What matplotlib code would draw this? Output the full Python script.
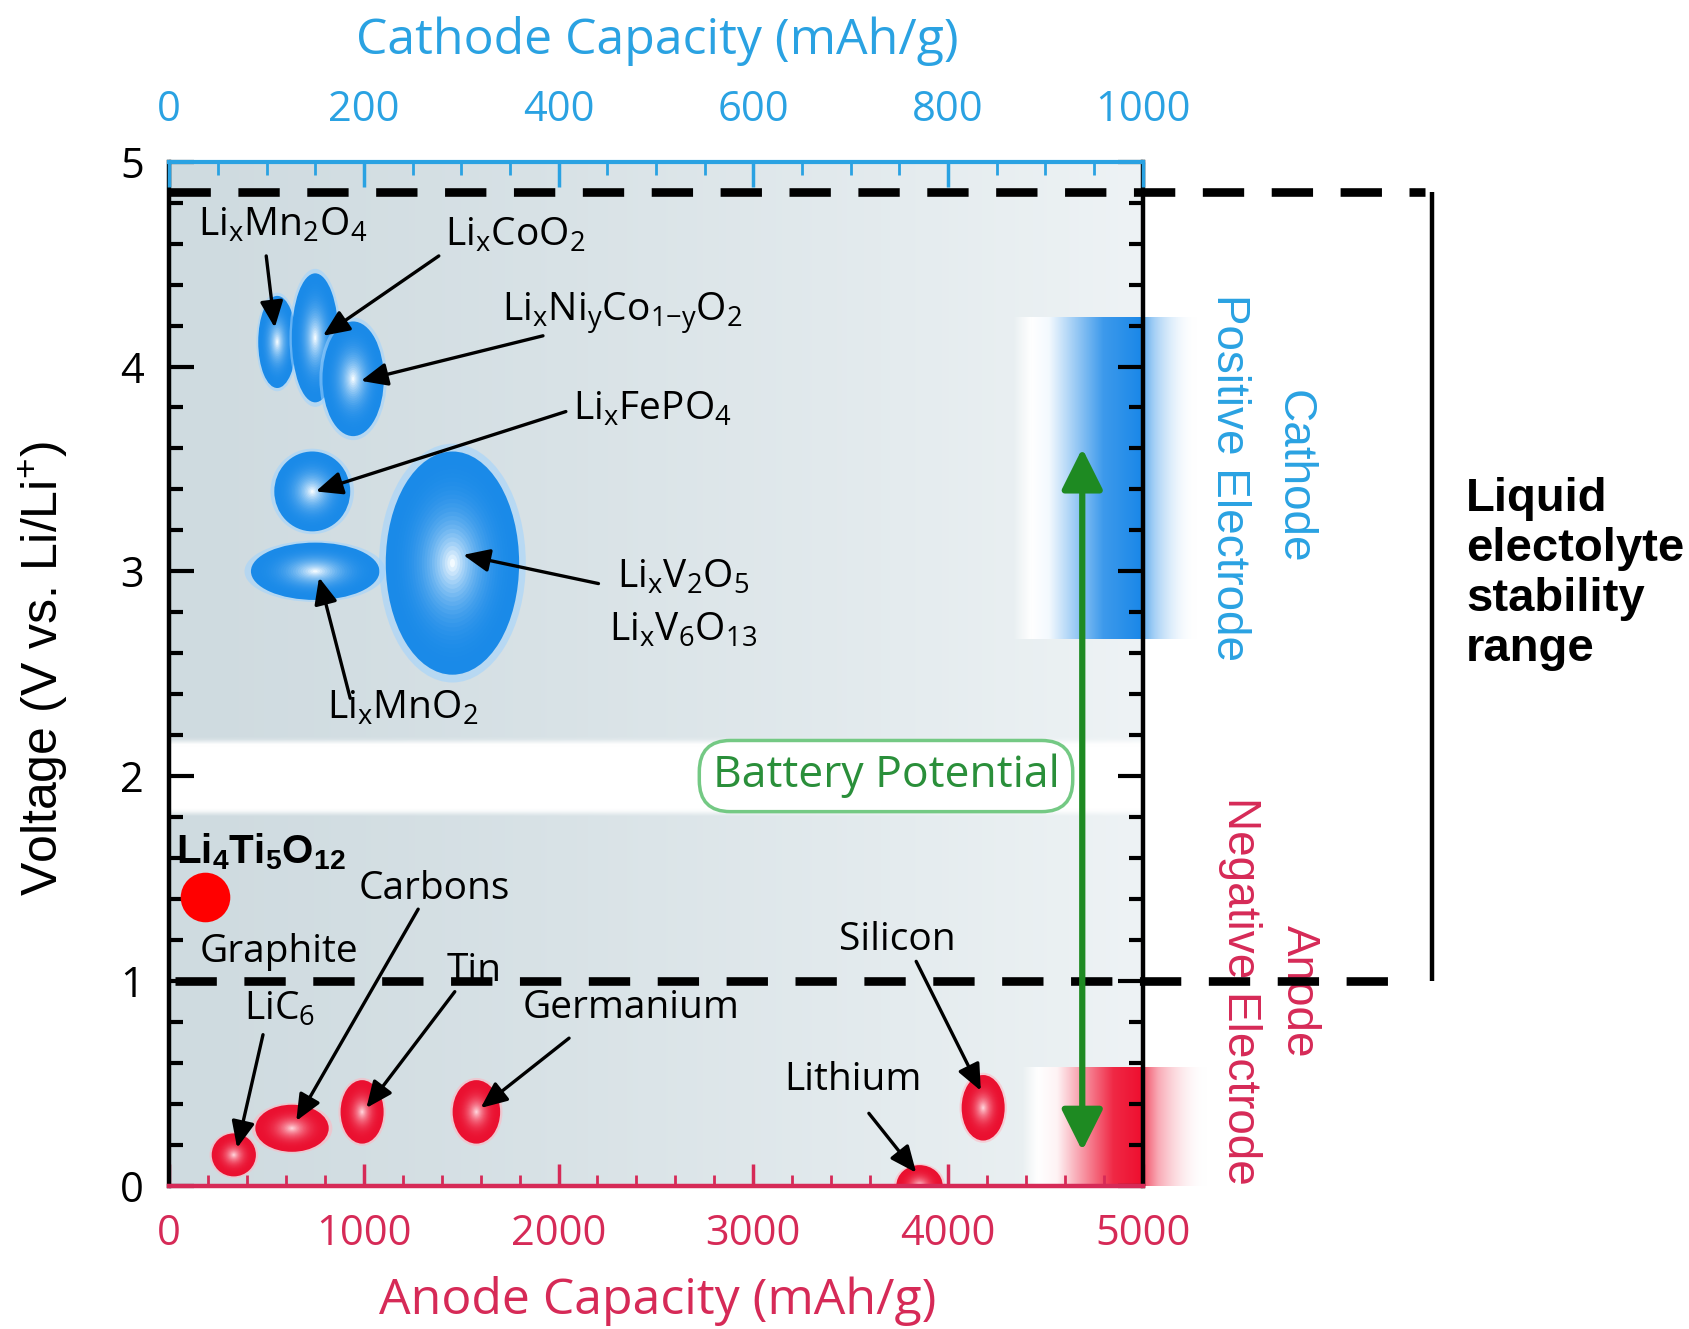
import numpy as np
import matplotlib
matplotlib.use('Agg')
import matplotlib.pyplot as plt
from matplotlib.patches import Ellipse
from matplotlib.colors import to_rgb
from matplotlib.ticker import MultipleLocator

# ---------------- data ----------------
cathode_labels = [r'$\mathregular{Li_xMn_2O_4}$', r'$\mathregular{Li_xCoO_2}$',
                  r'$\mathregular{Li_xNi_yCo_{1{-}y}O_2}$', r'$\mathregular{Li_xFePO_4}$',
                  r'$\mathregular{Li_xMnO_2}$', r'$\mathregular{Li_xV_2O_5}$']
cathode_capacity = [111, 150, 189, 147, 150, 291]          # mAh/g (cathode scale)
cathode_voltage = [4.12, 4.14, 3.94, 3.39, 3.00, 3.04]     # V
cathode_cap_spread = [39, 48, 63, 78, 132, 137]
cathode_volt_spread = [0.45, 0.63, 0.56, 0.39, 0.28, 1.09]

anode_labels = ['LiC6', 'Carbons', 'Tin', 'Germanium', 'Lithium', 'Silicon']
anode_capacity = [332, 631, 991, 1578, 3854, 4181]          # mAh/g (anode scale)
anode_voltage = [0.15, 0.28, 0.36, 0.36, 0.00, 0.38]
anode_cap_spread = [227, 377, 221, 244, 238, 221]
anode_volt_spread = [0.21, 0.23, 0.31, 0.31, 0.20, 0.32]

lto_capacity = 183
lto_voltage = 1.41

electrolyte_window = [1.0, 4.85]
cathode_band = [2.67, 4.24]
anode_band = [0.0, 0.58]
battery_potential = [0.17, 3.60]
white_band = [1.82, 2.17]

anode_ticks = [0, 1000, 2000, 3000, 4000, 5000]
cathode_ticks = [0, 200, 400, 600, 800, 1000]
voltage_ticks = [0, 1, 2, 3, 4, 5]

# ---------------- style ----------------
CATH_C = '#2aa2e2'
ANODE_C = '#d62a57'
BLUE = '#1b88e8'
RED = '#ee1030'
GREEN = '#1e8a22'
LFONT = 'Open Sans'
AFONT = 'Liberation Sans'

plt.rcParams['font.family'] = [LFONT, 'DejaVu Sans']

fig = plt.figure(figsize=(16.9, 13.29), dpi=100)
ax = fig.add_axes([0.1001, 0.1079, 0.5760, 0.7704])
ax.set_xlim(0, 5000)
ax.set_ylim(0, 5)
ax2 = ax.twiny()
ax2.set_xlim(0, 1000)
ax2.set_ylim(0, 5)

# background gradient with white band
H, W = 400, 400
vv = np.linspace(0, 5, H)[:, None]
xx = np.linspace(0, 1, W)[None, :]
c0 = np.array(to_rgb('#cfdbe0'))
c1 = np.array(to_rgb('#eef3f5'))
t = np.clip(xx ** 1.3, 0, 1)
bg = c0[None, None, :] * (1 - t[..., None]) + c1[None, None, :] * t[..., None]
bg = np.broadcast_to(bg, (H, W, 3)).copy()
band = np.clip(np.minimum(vv - white_band[0], white_band[1] - vv) / 0.03 + 0.5, 0, 1)
bg = bg * (1 - band[..., None]) + band[..., None] * 1.0
ax.imshow(bg, extent=[0, 5000, 0, 5], origin='lower', aspect='auto',
          interpolation='bilinear', zorder=0)


def glow_box(axis, x0, x1, y0, y1, keys, mix, alpha, color, z=1):
    xs = np.linspace(x0, x1, 400)
    m = np.interp(xs, keys, mix)
    a = np.interp(xs, keys, alpha)
    col = np.array(to_rgb(color))
    rgb = (1 - m)[:, None] * 1.0 + m[:, None] * col[None, :]
    img = np.zeros((2, len(xs), 4))
    img[:, :, :3] = rgb[None]
    img[:, :, 3] = a[None]
    axis.imshow(img, extent=[x0, x1, y0, y1], origin='lower', aspect='auto',
                interpolation='bilinear', zorder=z, clip_on=False)


glow_box(ax, 4336, 5280, cathode_band[0], cathode_band[1],
         [4336, 4430, 4520, 4800, 4990, 5000, 5060, 5280],
         [0, 0, 0.05, 0.85, 1.0, 0.7, 0.45, 0.0],
         [0, 1, 1, 1, 1, 1, 0.9, 0.0], BLUE)
glow_box(ax, 4380, 5330, anode_band[0], anode_band[1],
         [4380, 4460, 4560, 4850, 4990, 5000, 5080, 5330],
         [0, 0, 0.05, 0.9, 1.0, 0.75, 0.4, 0.0],
         [0, 1, 1, 1, 1, 1, 0.9, 0.0], RED)
ax.set_xlim(0, 5000)
ax.set_ylim(0, 5)


def grad_ellipse(axis, x, y, w, h, edge, center, halo, n=26, z=3):
    axis.add_patch(Ellipse((x, y), w * 1.1, h * 1.07, color=halo, alpha=0.55, lw=0, zorder=z))
    e = np.array(to_rgb(edge))
    c = np.array(to_rgb(center))
    for i in range(n):
        f = 1 - i / n
        tt = (i / (n - 1)) ** 2.6
        col = e * (1 - tt) + c * tt
        axis.add_patch(Ellipse((x, y), w * f, h * f, color=col, lw=0, zorder=z))


for c, v, w, h in zip(cathode_capacity, cathode_voltage, cathode_cap_spread, cathode_volt_spread):
    grad_ellipse(ax2, c, v, w, h, '#1a8ae8', '#f2faff', '#9fd3ff')
for a, v, w, h in zip(anode_capacity, anode_voltage, anode_cap_spread, anode_volt_spread):
    grad_ellipse(ax, a, v, w, h, '#ea1030', '#ffd0d8', '#ffb6c1')

ax.scatter([lto_capacity], [lto_voltage], s=1275, color='#ff0000', zorder=6, lw=0)

# electrolyte window dashed lines
ax.plot([0, 6451], [electrolyte_window[1]] * 2, color='black', lw=6.2,
        dashes=(4.8, 3.2), clip_on=False, zorder=8)
ax.plot([30, 6312], [electrolyte_window[0]] * 2, color='black', lw=6.2,
        dashes=(4.8, 3.2), clip_on=False, zorder=8)
ax.plot([6484, 6484], [electrolyte_window[1], electrolyte_window[0]], color='black',
        lw=3.2, clip_on=False, zorder=8, solid_capstyle='butt')

# green battery potential arrow
ax.annotate('', xy=(4690, battery_potential[1]), xytext=(4690, battery_potential[0]),
            arrowprops=dict(arrowstyle='<|-|>,head_length=0.9,head_width=0.45',
                            color=GREEN, lw=4.5, shrinkA=0, shrinkB=0, mutation_scale=28),
            zorder=9)
ax.text(3682, 2.0, 'Battery Potential', fontsize=32, color='#2a8f3a', ha='center', va='center',
        zorder=7, bbox=dict(boxstyle='round,pad=0.3,rounding_size=0.7', fc='white',
                            ec='#74c984', lw=2.5))

# labels for cathode materials (cathode coordinates)
ARW = dict(arrowstyle='-|>,head_length=0.8,head_width=0.35', color='black', lw=2.4,
           shrinkA=0, shrinkB=0, mutation_scale=20)
cath_text_pos = [(117, 4.69), (355, 4.64), (466, 4.26), (496, 3.79), (240, 2.33)]
cath_text_idx = [0, 1, 2, 3, 4]
for (tx, ty), i in zip(cath_text_pos, cath_text_idx):
    ax2.text(tx, ty, cathode_labels[i], fontsize=28, ha='center', va='center', zorder=10)
ax2.text(528, 2.97, cathode_labels[5], fontsize=28, ha='center', va='center', zorder=10)
ax2.text(528, 2.71, r'$\mathregular{Li_xV_6O_{13}}$', fontsize=28, ha='center', va='center', zorder=10)
cath_arrows = [((99.7, 4.54), (108.5, 4.19)), ((277, 4.54), (158, 4.15)),
               ((384, 4.15), (197, 3.93)), ((407.5, 3.78), (150.6, 3.39)),
               ((441, 2.94), (302, 3.08)), ((186, 2.38), (154, 2.97))]
for s, e in cath_arrows:
    ax2.annotate('', xy=e, xytext=s, arrowprops=ARW, zorder=10)

# labels for anode materials
ax.text(565, 1.142, 'Graphite', fontsize=28, ha='center', va='center', zorder=10)
ax.text(565, 0.858, r'$\mathregular{LiC_6}$', fontsize=28, ha='center', va='center', zorder=10)
anode_text_pos = [(1362, 1.447), (1567, 1.05), (2370, 0.868), (3511, 0.516), (3738, 1.20)]
for (tx, ty), name in zip(anode_text_pos, anode_labels[1:]):
    ax.text(tx, ty, name, fontsize=28, ha='center', va='center', zorder=7)
anode_arrows = [((482, 0.737), (349, 0.184)), ((1279, 1.35), (653, 0.316)),
                ((1467, 0.947), (1013, 0.379)), ((2054, 0.72), (1600, 0.379)),
                ((3594, 0.353), (3837, 0.063)), ((3837, 1.095), (4169, 0.463))]
for s, e in anode_arrows:
    ax.annotate('', xy=e, xytext=s, arrowprops=ARW, zorder=10)

ax.text(471, 1.63, r'$\mathregular{Li_4Ti_5O_{12}}$', fontsize=29, fontweight='bold',
        family=AFONT, ha='center', va='center', zorder=10)

# side texts
ax.text(5775, 3.46, 'Cathode', rotation=-90, fontsize=33, color=CATH_C, family=AFONT,
        ha='center', va='center', zorder=10)
ax.text(5443, 3.46, 'Positive Electrode', rotation=-90, fontsize=33, color=CATH_C, family=AFONT,
        ha='center', va='center', zorder=10)
ax.text(5803, 0.95, 'Anode', rotation=-90, fontsize=33, color=ANODE_C, family=AFONT,
        ha='center', va='center', zorder=7)
ax.text(5498, 0.95, 'Negative Electrode', rotation=-90, fontsize=33, color=ANODE_C, family=AFONT,
        ha='center', va='center', zorder=7)

fig.text(0.8675, 0.641, 'Liquid\nelectolyte\nstability\nrange', fontsize=34, fontweight='bold',
         family=AFONT, ha='left', va='top', linespacing=1.18)

# spines
for s in ['left', 'right']:
    ax.spines[s].set_linewidth(3.2)
    ax.spines[s].set_color('black')
ax.spines['bottom'].set_linewidth(3.2)
ax.spines['bottom'].set_color(ANODE_C)
ax.spines['top'].set_visible(False)
for s in ['left', 'right', 'bottom']:
    ax2.spines[s].set_visible(False)
ax2.spines['top'].set_linewidth(3)
ax2.spines['top'].set_color(CATH_C)
for sp in ax.spines.values():
    sp.set_zorder(12)

# ticks
ax.set_xticks(anode_ticks)
ax.xaxis.set_minor_locator(MultipleLocator(200))
ax.set_yticks(voltage_ticks)
ax.yaxis.set_minor_locator(MultipleLocator(0.2))
ax2.set_xticks(cathode_ticks)
ax2.xaxis.set_minor_locator(MultipleLocator(50))

ax.tick_params(axis='x', which='both', direction='in', colors=ANODE_C, top=False)
ax.tick_params(axis='x', which='major', length=16, width=2.5, labelsize=30, pad=20)
ax.tick_params(axis='x', which='minor', length=8, width=2)
ax.tick_params(axis='y', which='both', direction='in', left=True, right=True, colors='black')
ax.tick_params(axis='y', which='major', length=18, width=3, labelsize=30, pad=18)
ax.tick_params(axis='y', which='minor', length=10, width=3)
ax2.tick_params(axis='x', which='both', direction='in', colors=CATH_C)
ax2.tick_params(axis='x', which='major', length=18, width=2.5, labelsize=30, pad=22)
ax2.tick_params(axis='x', which='minor', length=9, width=2)

ax.set_xlabel('Anode Capacity (mAh/g)', fontsize=36, color=ANODE_C)
ax.xaxis.set_label_coords(0.502, -0.1126)
ax.xaxis.label.set_va('center')
ax2.set_xlabel('Cathode Capacity (mAh/g)', fontsize=36, color=CATH_C)
ax2.xaxis.set_label_coords(0.501, 1.118)
ax2.xaxis.label.set_va('center')
ax.set_ylabel(r'Voltage (V vs. Li/Li$^{\mathregular{+}}$)', fontsize=36, family=AFONT)
ax.yaxis.set_label_coords(-0.1296, 0.505)
ax.yaxis.label.set_va('center')

fig.savefig('out.png', dpi=100)
